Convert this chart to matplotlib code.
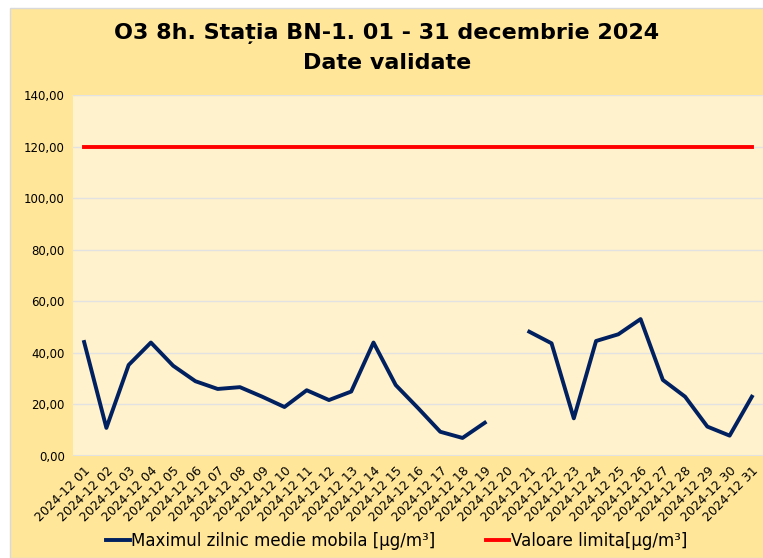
import numpy as np
import matplotlib.pyplot as plt
from matplotlib.patches import Rectangle

days = list(range(1, 32))
tick_labels = ['2024-12 %02d' % d for d in days]
o3_max = [44.2, 10.9, 35.3, 44.0, 35.0, 29.0, 26.0, 26.7, 23.0, 19.0,
          25.5, 21.7, 25.0, 44.0, 27.5, 18.6, 9.4, 7.0, 12.9, np.nan,
          48.2, 43.7, 14.6, 44.6, 47.2, 53.1, 29.5, 23.0, 11.4, 7.9, 23.0]
limita = [120.0] * 31
yticks = [0, 20, 40, 60, 80, 100, 120, 140]

fig = plt.figure(figsize=(7.63, 5.58), dpi=100)
fig.patch.set_facecolor('white')
fig.patches.append(Rectangle((10/763, 0), 1, 1 - 8/558, transform=fig.transFigure,
                             facecolor='#FFE699', edgecolor='#D9D9D9', lw=1, zorder=-1))

ax = fig.add_axes([73/763, 102/558, 690/763, 361/558])
ax.set_zorder(1)
ax.set_facecolor('#FFF2CC')
ax.plot(days, o3_max, color='#002060', lw=2.8, label='Maximul zilnic medie mobila [µg/m³]', zorder=3)
ax.plot(days, limita, color='#FF0000', lw=2.8, label='Valoare limita[µg/m³]', zorder=3)

ax.set_xlim(0.5, 31.5)
ax.set_ylim(0, 140)
ax.set_yticks(yticks)
ax.set_yticklabels(['%d,00' % v for v in yticks], fontsize=8.5)
ax.set_xticks(days)
ax.set_xticklabels(tick_labels, rotation=45, ha='right', rotation_mode='anchor', fontsize=9)
ax.tick_params(length=0, pad=6)
ax.grid(axis='y', color='#E2E2E2', lw=1)
for s in ax.spines.values():
    s.set_visible(False)
ax.axhline(0, color='#E2E2E2', lw=1.5)

fig.text(0.507, 0.94, 'O3 8h. Stația BN-1. 01 - 31 decembrie 2024', ha='center', va='center',
         fontsize=16, fontweight='bold')
fig.text(0.507, 0.887, 'Date validate', ha='center', va='center', fontsize=16, fontweight='bold')

fig.legend(loc='center', bbox_to_anchor=(0.52, 0.03), ncol=2, frameon=False, fontsize=12,
           handlelength=1.4, columnspacing=3.0, handletextpad=0.1)

fig.savefig('out.png', dpi=100, facecolor=fig.get_facecolor())
